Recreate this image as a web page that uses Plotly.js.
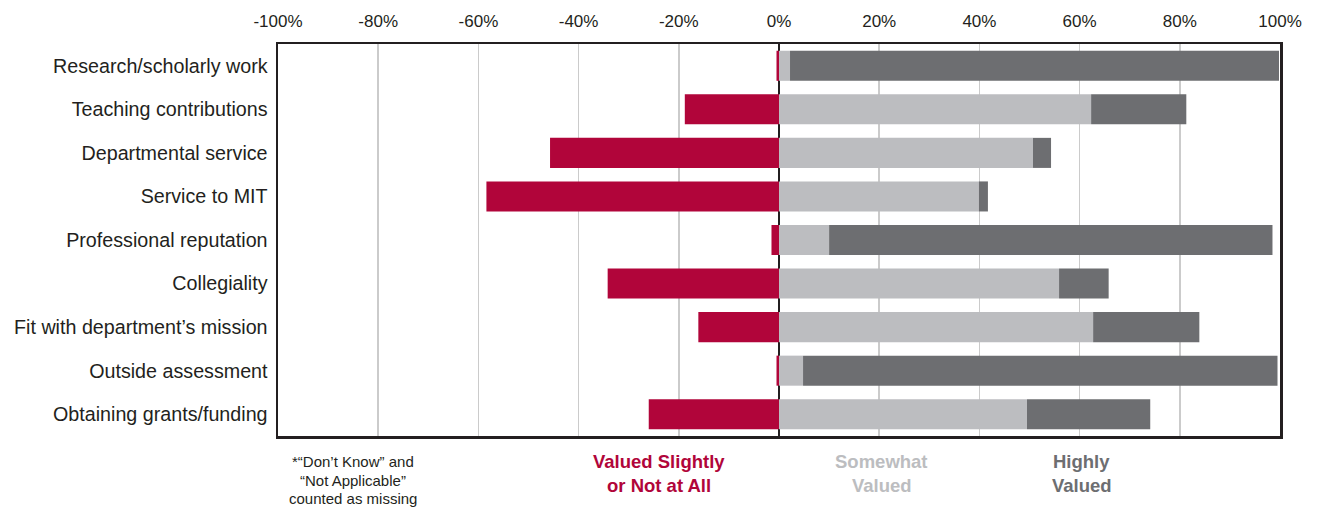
<!DOCTYPE html>
<html>
<head>
<meta charset="utf-8">
<script src="https://cdn.plot.ly/plotly-3.0.1.min.js"></script>
<style>html,body{margin:0;padding:0;background:#fff;}#chart{width:1320px;height:510px;}</style>
</head>
<body>
<div id="chart"></div>
<script>
const categories = [
  "Research/scholarly work",
  "Teaching contributions",
  "Departmental service",
  "Service to MIT",
  "Professional reputation",
  "Collegiality",
  "Fit with department\u2019s mission",
  "Outside assessment",
  "Obtaining grants/funding"
];
// percentages (negative side = valued slightly or not at all)
const notValued = [-0.5, -18.8, -45.7, -58.4, -1.5, -34.2, -16.1, -0.5, -26.0];
const somewhatValued = [2.2, 62.3, 50.7, 39.9, 10.0, 55.9, 62.7, 4.8, 49.5];
const highlyValued = [97.6, 19.0, 3.6, 1.8, 88.5, 9.9, 21.2, 94.7, 24.6];
const tickValues = [-100, -80, -60, -40, -20, 0, 20, 40, 60, 80, 100];
const tickLabels = tickValues.map(v => v + "%");
const noteLines = ["*\u201cDon\u2019t Know\u201d and", "\u201cNot Applicable\u201d", "counted as missing"];
const legendLabels = [["Valued Slightly", "or Not at All"], ["Somewhat", "Valued"], ["Highly", "Valued"]];

const RED = "#b1053a", LIGHT = "#bcbdc0", DARK = "#6d6e71", INK = "#231f20";
const FONT = "Liberation Sans, Arial, Helvetica, sans-serif";

const common = {type: "bar", orientation: "h", y: categories, width: 0.69, hoverinfo: "x+y", showlegend: false};
const data = [
  Object.assign({}, common, {x: notValued, name: "Valued Slightly or Not at All", marker: {color: RED}}),
  Object.assign({}, common, {x: somewhatValued, name: "Somewhat Valued", marker: {color: LIGHT}}),
  Object.assign({}, common, {x: highlyValued, name: "Highly Valued", marker: {color: DARK}})
];

// helper: paper y from pixel y (plot area top 44, bottom 436)
const py = px => (436 - px) / 392;
const annotations = [];
const noteY = [461, 480, 498];
noteLines.forEach((t, i) => annotations.push({
  xref: "x", yref: "paper", x: -85.1, y: py(noteY[i]), yanchor: "middle", showarrow: false,
  text: t, font: {family: FONT, size: 15, color: INK}
}));
const legendX = [-24.05, 20.5, 60.4];
const legendColors = [RED, LIGHT, DARK];
const legendY = [461, 485];
legendLabels.forEach((lines, k) => lines.forEach((t, i) => annotations.push({
  xref: "x", yref: "paper", x: legendX[k], y: py(legendY[i]), yanchor: "middle", showarrow: false,
  text: "<b>" + t + "</b>", font: {family: FONT, size: 18.5, color: legendColors[k]}
})));

const layout = {
  width: 1320, height: 510,
  margin: {l: 278, r: 40, t: 44, b: 74},
  paper_bgcolor: "#fff", plot_bgcolor: "#fff",
  barmode: "relative", bargap: 0.31,
  font: {family: FONT, color: INK},
  xaxis: {
    range: [-100, 100], side: "top",
    tickvals: tickValues, ticktext: tickLabels,
    tickfont: {size: 17, color: INK, family: FONT},
    showgrid: true, gridcolor: "#cbcbcb", gridwidth: 1.5,
    zeroline: true, zerolinecolor: INK, zerolinewidth: 1.5,
    showline: true, mirror: true, linecolor: INK, linewidth: 2.5,
    ticks: "outside", ticklen: 8, tickcolor: "rgba(0,0,0,0)",
    fixedrange: true
  },
  yaxis: {
    type: "category", categoryorder: "array", categoryarray: categories,
    autorange: "reversed",
    tickfont: {size: 19.7, color: INK, family: FONT},
    showgrid: false, zeroline: false,
    showline: true, mirror: true, linecolor: INK, linewidth: 2.5,
    ticks: "outside", ticklen: 4, tickcolor: "rgba(0,0,0,0)",
    fixedrange: true
  },
  annotations: annotations
};

Plotly.newPlot("chart", data, layout, {displayModeBar: false, staticPlot: true});
</script>
</body>
</html>
